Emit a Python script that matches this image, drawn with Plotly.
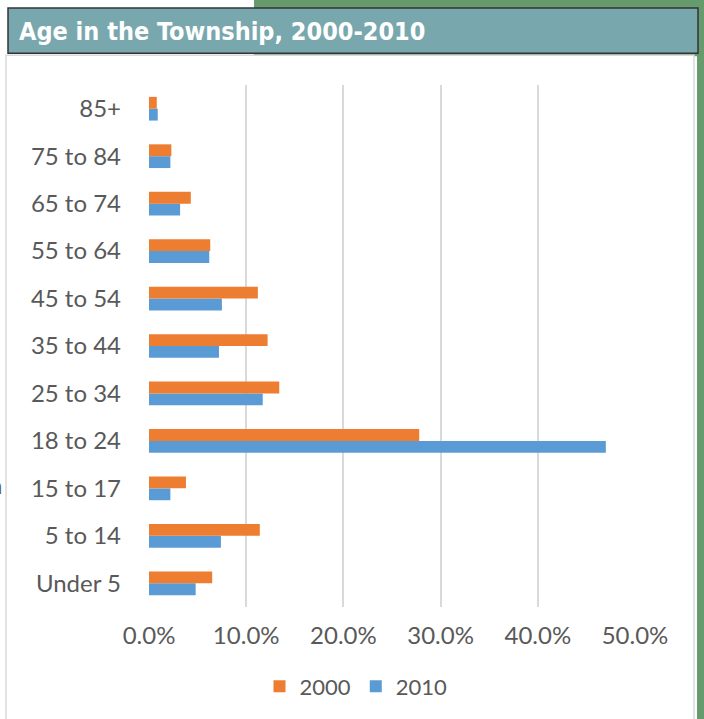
import plotly.graph_objects as go

categories = ["Under 5", "5 to 14", "15 to 17", "18 to 24", "25 to 34", "35 to 44",
              "45 to 54", "55 to 64", "65 to 74", "75 to 84", "85+"]
values_2000 = [0.065, 0.114, 0.038, 0.278, 0.134, 0.122, 0.112, 0.063, 0.043, 0.023, 0.008]
values_2010 = [0.048, 0.074, 0.022, 0.470, 0.117, 0.072, 0.075, 0.062, 0.032, 0.022, 0.009]
x_ticks = [0, 0.1, 0.2, 0.3, 0.4, 0.5]
x_tick_labels = ["0.0%", "10.0%", "20.0%", "30.0%", "40.0%", "50.0%"]
title_text = "Age in the Township, 2000-2010"

W, H = 704, 719
L, R, T, B = 149, 635, 85, 610  # plot area in pixels

def px(x):
    return (x - L) / (R - L)

def py(y):
    return (B - y) / (B - T)

TEXT = "#595959"
FONT = "Lato"

fig = go.Figure()
fig.add_trace(go.Bar(y=categories, x=values_2010, name="2010", orientation="h",
                     marker=dict(color="#5B9BD5", line=dict(width=0))))
fig.add_trace(go.Bar(y=categories, x=values_2000, name="2000", orientation="h",
                     marker=dict(color="#ED7D31", line=dict(width=0))))

shapes = [
    dict(type="rect", xref="paper", yref="paper", x0=px(254), x1=px(720), y0=py(-10), y1=py(56),
         fillcolor="#669B6E", line=dict(width=0), layer="below"),
    dict(type="rect", xref="paper", yref="paper", x0=px(697), x1=px(720), y0=py(-10), y1=py(730),
         fillcolor="#669B6E", line=dict(width=0), layer="below"),
    dict(type="rect", xref="paper", yref="paper", x0=px(6), x1=px(694), y0=py(55), y1=py(740),
         fillcolor="white", line=dict(width=1.5, color="#D9D9D9"), layer="below"),
    dict(type="rect", xref="paper", yref="paper", x0=px(8), x1=px(698), y0=py(7.5), y1=py(53),
         fillcolor="#78A8AE", line=dict(width=1.5, color="#333333"), layer="below"),
]

annotations = [
    dict(text=title_text, xref="paper", yref="paper", x=px(17), y=py(31), xanchor="left",
         yanchor="middle", showarrow=False,
         font=dict(family="Liberation Sans Narrow, DejaVu Sans Condensed, sans-serif",
                   size=25, color="white", weight="bold")),
    dict(text="n", xref="paper", yref="paper", x=px(4), y=py(487), xanchor="right",
         yanchor="middle", showarrow=False, font=dict(family=FONT, size=24, color=TEXT)),
]

fig.update_layout(
    width=W, height=H,
    margin=dict(l=L, r=W - R, t=T, b=H - B),
    paper_bgcolor="white",
    plot_bgcolor="rgba(0,0,0,0)",
    barmode="group",
    bargap=0.5,
    bargroupgap=0,
    shapes=shapes,
    annotations=annotations,
    font=dict(family=FONT, color=TEXT, size=22),
    showlegend=True,
    legend=dict(orientation="h", x=px(356), y=py(690), xanchor="center", yanchor="middle",
                traceorder="reversed", font=dict(size=22, color=TEXT),
                bgcolor="rgba(0,0,0,0)"),
    xaxis=dict(range=[0, 0.5], tickvals=x_ticks, ticktext=x_tick_labels,
               showgrid=True, gridcolor="#D9D9D9", gridwidth=2,
               zeroline=False, showline=False, ticks="",
               ticklabelstandoff=12, tickfont=dict(size=24, color=TEXT), fixedrange=True),
    yaxis=dict(categoryorder="array", categoryarray=categories,
               showgrid=False, zeroline=False, showline=False, ticks="",
               ticklabelstandoff=27, tickfont=dict(size=24, color=TEXT), fixedrange=True),
)

fig.write_html("out.html", config={"displayModeBar": False},
               post_script="document.body.style.margin='0';")
